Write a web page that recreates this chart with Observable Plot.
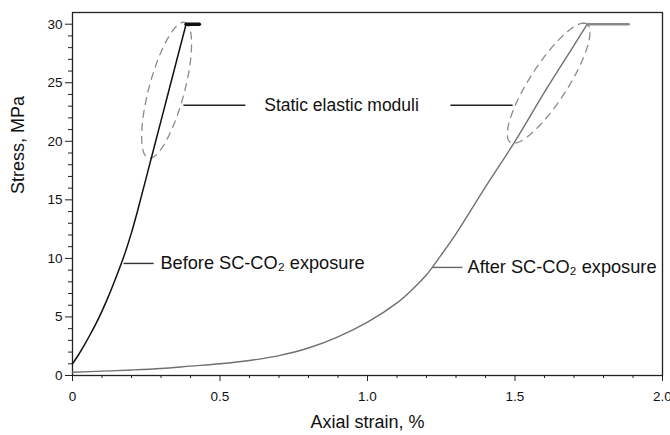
<!DOCTYPE html>
<html><head><meta charset="utf-8">
<script src="https://cdn.jsdelivr.net/npm/d3@7"></script>
<script src="https://cdn.jsdelivr.net/npm/@observablehq/plot@0.6"></script>
<style>body{margin:0;background:#fff} #chart svg{display:block}</style>
</head><body><div id="chart"></div>
<script>
// Stress-strain curve before SC-CO2 exposure
const beforeStrain = [0, 0.02, 0.04, 0.06, 0.08, 0.10, 0.12, 0.14, 0.16, 0.18, 0.20, 0.22, 0.25, 0.30, 0.35, 0.385];
const beforeStress = [1.0, 1.75, 2.6, 3.5, 4.45, 5.5, 6.65, 7.9, 9.2, 10.6, 12.2, 14.0, 16.9, 21.75, 26.6, 30.0];
const beforePlateauStrain = [0.385, 0.43];
const beforePlateauStress = [30.0, 30.0];

// Stress-strain curve after SC-CO2 exposure
const afterStrain = [0, 0.1, 0.2, 0.3, 0.4, 0.5, 0.6, 0.7, 0.8, 0.9, 1.0, 1.1, 1.15, 1.2, 1.25, 1.3, 1.4, 1.5, 1.6, 1.7, 1.745];
const afterStress = [0.28, 0.37, 0.47, 0.6, 0.8, 1.0, 1.28, 1.7, 2.35, 3.3, 4.55, 6.2, 7.3, 8.6, 10.3, 12.1, 16.1, 20.0, 24.2, 28.2, 30.0];
const afterPlateauStrain = [1.745, 1.885];
const afterPlateauStress = [30.0, 30.0];

// Tick values and labels
const xTicks = [0, 0.5, 1.0, 1.5, 2.0];
const xTickLabels = ["0", "0.5", "1.0", "1.5", "2.0"];
const xMinorTicks = [0.1, 0.2, 0.3, 0.4, 0.6, 0.7, 0.8, 0.9, 1.1, 1.2, 1.3, 1.4, 1.6, 1.7, 1.8, 1.9];
const yTicks = [0, 5, 10, 15, 20, 25, 30];
const yTickLabels = ["0", "5", "10", "15", "20", "25", "30"];
const yMinorTicks = [1,2,3,4,6,7,8,9,11,12,13,14,16,17,18,19,21,22,23,24,26,27,28,29];

// Annotations: dashed ellipses (center, half major-axis vector, half horizontal conjugate)
const ellipseCenterX = [0.319, 1.614];
const ellipseCenterY = [24.36, 24.96];
const ellipseAxisX = [0.0576, 0.1186];
const ellipseAxisY = [5.81, 5.13];
const ellipseHalfWidth = [0.062, 0.0746];

// Leader lines
const leaderX1 = [0.376, 1.281, 0.173, 1.22];
const leaderX2 = [0.586, 1.492, 0.275, 1.322];
const leaderY = [23.08, 23.08, 9.57, 9.23];
const leaderColor = ["#222", "#222", "#333", "#666"];

// Labels
const staticLabel = "Static elastic moduli";
const staticLabelX = 0.912, staticLabelY = 23.08;
const curveLabels = ["Before SC-CO\u2082 exposure", "After SC-CO\u2082 exposure"];
const curveLabelX = [0.298, 1.339];
const curveLabelY = [9.57, 9.23];

const pts = (xs, ys) => xs.map((x, i) => ({x, y: ys[i]}));

const ellipsePts = [];
ellipseCenterX.forEach((cx, k) => {
  for (let j = 0; j <= 120; j++) {
    const t = (j / 120) * 2 * Math.PI;
    ellipsePts.push({
      k,
      x: cx + Math.cos(t) * ellipseAxisX[k] + Math.sin(t) * ellipseHalfWidth[k],
      y: ellipseCenterY[k] + Math.cos(t) * ellipseAxisY[k]
    });
  }
});

const leaders = leaderX1.map((x1, i) => ({x1, x2: leaderX2[i], y: leaderY[i], c: leaderColor[i]}));
const curveLabelData = curveLabels.map((t, i) => ({t, x: curveLabelX[i], y: curveLabelY[i]}));

const font = "'Liberation Sans', Arial, sans-serif";

const chart = Plot.plot({
  width: 670,
  height: 435,
  marginLeft: 72,
  marginRight: 8,
  marginTop: 12,
  marginBottom: 60,
  x: {domain: [0, 2]},
  y: {domain: [0, 31]},
  style: {fontFamily: font, fontSize: "13px", color: "#111", background: "#fff"},
  marks: [
    Plot.axisX(xTicks, {tickSize: 6, tickPadding: 10, tickFormat: d => xTickLabels[xTicks.indexOf(d)], label: null, stroke: "#222", fontSize: 13.5}),
    Plot.axisX(xMinorTicks, {tickSize: 3, tickFormat: () => "", label: null, stroke: "#222"}),
    Plot.axisY(yTicks, {tickSize: 7, tickPadding: 3, tickFormat: d => yTickLabels[yTicks.indexOf(d)], label: null, stroke: "#222", fontSize: 13.5}),
    Plot.axisY(yMinorTicks, {tickSize: 4, tickFormat: () => "", label: null, stroke: "#222"}),
    Plot.frame({stroke: "#222", strokeWidth: 1.3}),
    Plot.line(ellipsePts, {x: "x", y: "y", z: "k", stroke: "#8a8a8a", strokeWidth: 1.3, strokeDasharray: "7,6"}),
    Plot.line(pts(afterStrain, afterStress), {x: "x", y: "y", stroke: "#707070", strokeWidth: 1.4, curve: "catmull-rom"}),
    Plot.line(pts(afterPlateauStrain, afterPlateauStress), {x: "x", y: "y", stroke: "#888", strokeWidth: 2.6}),
    Plot.line(pts(beforeStrain, beforeStress), {x: "x", y: "y", stroke: "#111", strokeWidth: 1.5, curve: "catmull-rom"}),
    Plot.line(pts(beforePlateauStrain, beforePlateauStress), {x: "x", y: "y", stroke: "#111", strokeWidth: 3.5}),
    Plot.link(leaders, {x1: "x1", x2: "x2", y1: "y", y2: "y", stroke: "c", strokeWidth: 1.4}),
    Plot.text([staticLabel], {x: staticLabelX, y: staticLabelY, text: d => d, textAnchor: "middle", fontSize: 17.5, fill: "#111"}),
    Plot.text(curveLabelData, {x: "x", y: "y", text: "t", textAnchor: "start", fontSize: 18.2, fill: "#111"}),
    Plot.text(["Axial strain, %"], {frameAnchor: "bottom", dy: 52, text: d => d, fontSize: 18, fill: "#111"}),
    Plot.text(["Stress, MPa"], {frameAnchor: "left", dx: -54, rotate: -90, text: d => d, fontSize: 18, fill: "#111"})
  ]
});
document.getElementById("chart").append(chart);
</script></body></html>
